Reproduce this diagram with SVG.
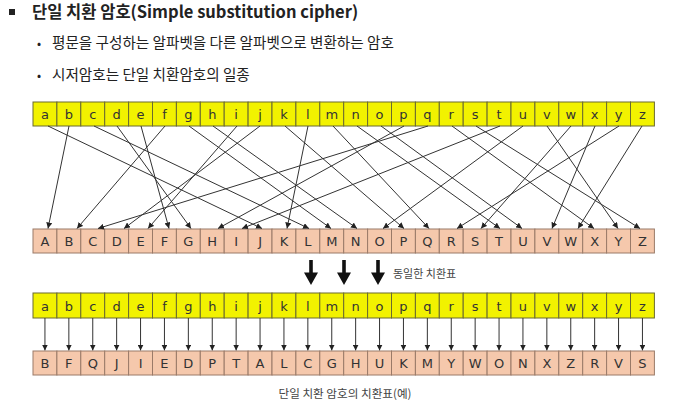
<svg xmlns="http://www.w3.org/2000/svg" width="682" height="408" viewBox="0 0 682 408">
<style>
.bg{fill:#ffffff}
.y rect{fill:#f2f200;stroke:#6a6a30;stroke-width:1}
.p rect{fill:#f5c8ac;stroke:#9a7a68;stroke-width:1}
.y text,.p text{font-family:"DejaVu Sans",sans-serif;font-size:13px;fill:#333;text-anchor:middle}
.c line{stroke:#333;stroke-width:1;marker-end:url(#ah)}
.t{font-family:"Noto Sans CJK KR","Noto Sans",sans-serif;fill:#222}
.s{font-family:"Noto Sans CJK KR","Noto Sans",sans-serif;fill:#444}
</style>
<defs>
<marker id="ah" markerUnits="userSpaceOnUse" markerWidth="6" markerHeight="6" refX="6" refY="3" orient="auto"><path d="M0,0 L6,3 L0,6 z" fill="#222"/></marker>
</defs>
<rect class="bg" x="0" y="0" width="682" height="408"/>
<g id="title">
<rect x="9" y="9" width="6" height="6" fill="#222"/>
<text class="t" x="32" y="18" font-size="16.5" font-weight="bold">단일 치환 암호(Simple substitution cipher)</text>
<text class="t" x="37" y="48" font-size="12" fill="#444">•</text>
<text class="t" x="52" y="48" font-size="14.6">평문을 구성하는 알파벳을 다른 알파벳으로 변환하는 암호</text>
<text class="t" x="37" y="80" font-size="12" fill="#444">•</text>
<text class="t" x="52" y="80" font-size="14.6">시저암호는 단일 치환암호의 일종</text>
</g>
<g id="plain-top" class="y">
<g id="t-a"><rect x="33" y="102" width="23.9" height="24"/><text x="44.95" y="119">a</text></g>
<g id="t-b"><rect x="56.9" y="102" width="23.9" height="24"/><text x="68.85" y="119">b</text></g>
<g id="t-c"><rect x="80.8" y="102" width="23.9" height="24"/><text x="92.75" y="119">c</text></g>
<g id="t-d"><rect x="104.7" y="102" width="23.9" height="24"/><text x="116.65" y="119">d</text></g>
<g id="t-e"><rect x="128.6" y="102" width="23.9" height="24"/><text x="140.55" y="119">e</text></g>
<g id="t-f"><rect x="152.5" y="102" width="23.9" height="24"/><text x="164.45" y="119">f</text></g>
<g id="t-g"><rect x="176.4" y="102" width="23.9" height="24"/><text x="188.35" y="119">g</text></g>
<g id="t-h"><rect x="200.3" y="102" width="23.9" height="24"/><text x="212.25" y="119">h</text></g>
<g id="t-i"><rect x="224.2" y="102" width="23.9" height="24"/><text x="236.15" y="119">i</text></g>
<g id="t-j"><rect x="248.1" y="102" width="23.9" height="24"/><text x="260.05" y="119">j</text></g>
<g id="t-k"><rect x="272" y="102" width="23.9" height="24"/><text x="283.95" y="119">k</text></g>
<g id="t-l"><rect x="295.9" y="102" width="23.9" height="24"/><text x="307.85" y="119">l</text></g>
<g id="t-m"><rect x="319.8" y="102" width="23.9" height="24"/><text x="331.75" y="119">m</text></g>
<g id="t-n"><rect x="343.7" y="102" width="23.9" height="24"/><text x="355.65" y="119">n</text></g>
<g id="t-o"><rect x="367.6" y="102" width="23.9" height="24"/><text x="379.55" y="119">o</text></g>
<g id="t-p"><rect x="391.5" y="102" width="23.9" height="24"/><text x="403.45" y="119">p</text></g>
<g id="t-q"><rect x="415.4" y="102" width="23.9" height="24"/><text x="427.35" y="119">q</text></g>
<g id="t-r"><rect x="439.3" y="102" width="23.9" height="24"/><text x="451.25" y="119">r</text></g>
<g id="t-s"><rect x="463.2" y="102" width="23.9" height="24"/><text x="475.15" y="119">s</text></g>
<g id="t-t"><rect x="487.1" y="102" width="23.9" height="24"/><text x="499.05" y="119">t</text></g>
<g id="t-u"><rect x="511" y="102" width="23.9" height="24"/><text x="522.95" y="119">u</text></g>
<g id="t-v"><rect x="534.9" y="102" width="23.9" height="24"/><text x="546.85" y="119">v</text></g>
<g id="t-w"><rect x="558.8" y="102" width="23.9" height="24"/><text x="570.75" y="119">w</text></g>
<g id="t-x"><rect x="582.7" y="102" width="23.9" height="24"/><text x="594.65" y="119">x</text></g>
<g id="t-y"><rect x="606.6" y="102" width="23.9" height="24"/><text x="618.55" y="119">y</text></g>
<g id="t-z"><rect x="630.5" y="102" width="23.9" height="24"/><text x="642.45" y="119">z</text></g>
</g>
<g id="cipher-top" class="p">
<g id="u-A"><rect x="33" y="229" width="23.9" height="24"/><text x="44.95" y="246">A</text></g>
<g id="u-B"><rect x="56.9" y="229" width="23.9" height="24"/><text x="68.85" y="246">B</text></g>
<g id="u-C"><rect x="80.8" y="229" width="23.9" height="24"/><text x="92.75" y="246">C</text></g>
<g id="u-D"><rect x="104.7" y="229" width="23.9" height="24"/><text x="116.65" y="246">D</text></g>
<g id="u-E"><rect x="128.6" y="229" width="23.9" height="24"/><text x="140.55" y="246">E</text></g>
<g id="u-F"><rect x="152.5" y="229" width="23.9" height="24"/><text x="164.45" y="246">F</text></g>
<g id="u-G"><rect x="176.4" y="229" width="23.9" height="24"/><text x="188.35" y="246">G</text></g>
<g id="u-H"><rect x="200.3" y="229" width="23.9" height="24"/><text x="212.25" y="246">H</text></g>
<g id="u-I"><rect x="224.2" y="229" width="23.9" height="24"/><text x="236.15" y="246">I</text></g>
<g id="u-J"><rect x="248.1" y="229" width="23.9" height="24"/><text x="260.05" y="246">J</text></g>
<g id="u-K"><rect x="272" y="229" width="23.9" height="24"/><text x="283.95" y="246">K</text></g>
<g id="u-L"><rect x="295.9" y="229" width="23.9" height="24"/><text x="307.85" y="246">L</text></g>
<g id="u-M"><rect x="319.8" y="229" width="23.9" height="24"/><text x="331.75" y="246">M</text></g>
<g id="u-N"><rect x="343.7" y="229" width="23.9" height="24"/><text x="355.65" y="246">N</text></g>
<g id="u-O"><rect x="367.6" y="229" width="23.9" height="24"/><text x="379.55" y="246">O</text></g>
<g id="u-P"><rect x="391.5" y="229" width="23.9" height="24"/><text x="403.45" y="246">P</text></g>
<g id="u-Q"><rect x="415.4" y="229" width="23.9" height="24"/><text x="427.35" y="246">Q</text></g>
<g id="u-R"><rect x="439.3" y="229" width="23.9" height="24"/><text x="451.25" y="246">R</text></g>
<g id="u-S"><rect x="463.2" y="229" width="23.9" height="24"/><text x="475.15" y="246">S</text></g>
<g id="u-T"><rect x="487.1" y="229" width="23.9" height="24"/><text x="499.05" y="246">T</text></g>
<g id="u-U"><rect x="511" y="229" width="23.9" height="24"/><text x="522.95" y="246">U</text></g>
<g id="u-V"><rect x="534.9" y="229" width="23.9" height="24"/><text x="546.85" y="246">V</text></g>
<g id="u-W"><rect x="558.8" y="229" width="23.9" height="24"/><text x="570.75" y="246">W</text></g>
<g id="u-X"><rect x="582.7" y="229" width="23.9" height="24"/><text x="594.65" y="246">X</text></g>
<g id="u-Y"><rect x="606.6" y="229" width="23.9" height="24"/><text x="618.55" y="246">Y</text></g>
<g id="u-Z"><rect x="630.5" y="229" width="23.9" height="24"/><text x="642.45" y="246">Z</text></g>
</g>
<g id="connectors-top" class="c">
<line x1="48" y1="126" x2="262" y2="228.5"/>
<line x1="69" y1="126" x2="48" y2="228.5"/>
<line x1="94" y1="126" x2="309" y2="228.5"/>
<line x1="117" y1="126" x2="191" y2="228.5"/>
<line x1="141" y1="126" x2="169" y2="228.5"/>
<line x1="165" y1="126" x2="77" y2="228.5"/>
<line x1="189" y1="126" x2="331" y2="228.5"/>
<line x1="213" y1="126" x2="357" y2="228.5"/>
<line x1="237" y1="126" x2="148" y2="228.5"/>
<line x1="260" y1="126" x2="124" y2="228.5"/>
<line x1="285" y1="126" x2="404" y2="228.5"/>
<line x1="308" y1="126" x2="287" y2="228.5"/>
<line x1="333" y1="126" x2="429" y2="228.5"/>
<line x1="357" y1="126" x2="500" y2="228.5"/>
<line x1="381" y1="126" x2="522" y2="228.5"/>
<line x1="404" y1="126" x2="218" y2="228.5"/>
<line x1="428" y1="126" x2="98" y2="228.5"/>
<line x1="452" y1="126" x2="594" y2="228.5"/>
<line x1="476" y1="126" x2="640" y2="228.5"/>
<line x1="500" y1="126" x2="242" y2="228.5"/>
<line x1="523" y1="126" x2="383" y2="228.5"/>
<line x1="547" y1="126" x2="618" y2="228.5"/>
<line x1="571" y1="126" x2="481" y2="228.5"/>
<line x1="595" y1="126" x2="552" y2="228.5"/>
<line x1="619" y1="126" x2="457" y2="228.5"/>
<line x1="642" y1="126" x2="578" y2="228.5"/>
</g>
<g id="same-table">
<g fill="#111">
<path d="M309.2,260 h3.6 v12.5 h5.2 l-7,12.5 l-7,-12.5 h5.2 z"/>
<path d="M342.2,260 h3.6 v12.5 h5.2 l-7,12.5 l-7,-12.5 h5.2 z"/>
<path d="M376.2,260 h3.6 v12.5 h5.2 l-7,12.5 l-7,-12.5 h5.2 z"/>
</g>
<text class="s" x="393" y="278" font-size="11">동일한 치환표</text>
</g>
<g id="plain-bottom" class="y">
<g id="b-a"><rect x="33" y="293" width="23.9" height="25"/><text x="44.95" y="310.5">a</text></g>
<g id="b-b"><rect x="56.9" y="293" width="23.9" height="25"/><text x="68.85" y="310.5">b</text></g>
<g id="b-c"><rect x="80.8" y="293" width="23.9" height="25"/><text x="92.75" y="310.5">c</text></g>
<g id="b-d"><rect x="104.7" y="293" width="23.9" height="25"/><text x="116.65" y="310.5">d</text></g>
<g id="b-e"><rect x="128.6" y="293" width="23.9" height="25"/><text x="140.55" y="310.5">e</text></g>
<g id="b-f"><rect x="152.5" y="293" width="23.9" height="25"/><text x="164.45" y="310.5">f</text></g>
<g id="b-g"><rect x="176.4" y="293" width="23.9" height="25"/><text x="188.35" y="310.5">g</text></g>
<g id="b-h"><rect x="200.3" y="293" width="23.9" height="25"/><text x="212.25" y="310.5">h</text></g>
<g id="b-i"><rect x="224.2" y="293" width="23.9" height="25"/><text x="236.15" y="310.5">i</text></g>
<g id="b-j"><rect x="248.1" y="293" width="23.9" height="25"/><text x="260.05" y="310.5">j</text></g>
<g id="b-k"><rect x="272" y="293" width="23.9" height="25"/><text x="283.95" y="310.5">k</text></g>
<g id="b-l"><rect x="295.9" y="293" width="23.9" height="25"/><text x="307.85" y="310.5">l</text></g>
<g id="b-m"><rect x="319.8" y="293" width="23.9" height="25"/><text x="331.75" y="310.5">m</text></g>
<g id="b-n"><rect x="343.7" y="293" width="23.9" height="25"/><text x="355.65" y="310.5">n</text></g>
<g id="b-o"><rect x="367.6" y="293" width="23.9" height="25"/><text x="379.55" y="310.5">o</text></g>
<g id="b-p"><rect x="391.5" y="293" width="23.9" height="25"/><text x="403.45" y="310.5">p</text></g>
<g id="b-q"><rect x="415.4" y="293" width="23.9" height="25"/><text x="427.35" y="310.5">q</text></g>
<g id="b-r"><rect x="439.3" y="293" width="23.9" height="25"/><text x="451.25" y="310.5">r</text></g>
<g id="b-s"><rect x="463.2" y="293" width="23.9" height="25"/><text x="475.15" y="310.5">s</text></g>
<g id="b-t"><rect x="487.1" y="293" width="23.9" height="25"/><text x="499.05" y="310.5">t</text></g>
<g id="b-u"><rect x="511" y="293" width="23.9" height="25"/><text x="522.95" y="310.5">u</text></g>
<g id="b-v"><rect x="534.9" y="293" width="23.9" height="25"/><text x="546.85" y="310.5">v</text></g>
<g id="b-w"><rect x="558.8" y="293" width="23.9" height="25"/><text x="570.75" y="310.5">w</text></g>
<g id="b-x"><rect x="582.7" y="293" width="23.9" height="25"/><text x="594.65" y="310.5">x</text></g>
<g id="b-y"><rect x="606.6" y="293" width="23.9" height="25"/><text x="618.55" y="310.5">y</text></g>
<g id="b-z"><rect x="630.5" y="293" width="23.9" height="25"/><text x="642.45" y="310.5">z</text></g>
</g>
<g id="connectors-bottom" class="c">
<line x1="44.95" y1="318" x2="44.95" y2="350.5"/>
<line x1="68.85" y1="318" x2="68.85" y2="350.5"/>
<line x1="92.75" y1="318" x2="92.75" y2="350.5"/>
<line x1="116.65" y1="318" x2="116.65" y2="350.5"/>
<line x1="140.55" y1="318" x2="140.55" y2="350.5"/>
<line x1="164.45" y1="318" x2="164.45" y2="350.5"/>
<line x1="188.35" y1="318" x2="188.35" y2="350.5"/>
<line x1="212.25" y1="318" x2="212.25" y2="350.5"/>
<line x1="236.15" y1="318" x2="236.15" y2="350.5"/>
<line x1="260.05" y1="318" x2="260.05" y2="350.5"/>
<line x1="283.95" y1="318" x2="283.95" y2="350.5"/>
<line x1="307.85" y1="318" x2="307.85" y2="350.5"/>
<line x1="331.75" y1="318" x2="331.75" y2="350.5"/>
<line x1="355.65" y1="318" x2="355.65" y2="350.5"/>
<line x1="379.55" y1="318" x2="379.55" y2="350.5"/>
<line x1="403.45" y1="318" x2="403.45" y2="350.5"/>
<line x1="427.35" y1="318" x2="427.35" y2="350.5"/>
<line x1="451.25" y1="318" x2="451.25" y2="350.5"/>
<line x1="475.15" y1="318" x2="475.15" y2="350.5"/>
<line x1="499.05" y1="318" x2="499.05" y2="350.5"/>
<line x1="522.95" y1="318" x2="522.95" y2="350.5"/>
<line x1="546.85" y1="318" x2="546.85" y2="350.5"/>
<line x1="570.75" y1="318" x2="570.75" y2="350.5"/>
<line x1="594.65" y1="318" x2="594.65" y2="350.5"/>
<line x1="618.55" y1="318" x2="618.55" y2="350.5"/>
<line x1="642.45" y1="318" x2="642.45" y2="350.5"/>
</g>
<g id="cipher-bottom" class="p">
<g id="c-B"><rect x="33" y="351" width="23.9" height="24"/><text x="44.95" y="368">B</text></g>
<g id="c-F"><rect x="56.9" y="351" width="23.9" height="24"/><text x="68.85" y="368">F</text></g>
<g id="c-Q"><rect x="80.8" y="351" width="23.9" height="24"/><text x="92.75" y="368">Q</text></g>
<g id="c-J"><rect x="104.7" y="351" width="23.9" height="24"/><text x="116.65" y="368">J</text></g>
<g id="c-I"><rect x="128.6" y="351" width="23.9" height="24"/><text x="140.55" y="368">I</text></g>
<g id="c-E"><rect x="152.5" y="351" width="23.9" height="24"/><text x="164.45" y="368">E</text></g>
<g id="c-D"><rect x="176.4" y="351" width="23.9" height="24"/><text x="188.35" y="368">D</text></g>
<g id="c-P"><rect x="200.3" y="351" width="23.9" height="24"/><text x="212.25" y="368">P</text></g>
<g id="c-T"><rect x="224.2" y="351" width="23.9" height="24"/><text x="236.15" y="368">T</text></g>
<g id="c-A"><rect x="248.1" y="351" width="23.9" height="24"/><text x="260.05" y="368">A</text></g>
<g id="c-L"><rect x="272" y="351" width="23.9" height="24"/><text x="283.95" y="368">L</text></g>
<g id="c-C"><rect x="295.9" y="351" width="23.9" height="24"/><text x="307.85" y="368">C</text></g>
<g id="c-G"><rect x="319.8" y="351" width="23.9" height="24"/><text x="331.75" y="368">G</text></g>
<g id="c-H"><rect x="343.7" y="351" width="23.9" height="24"/><text x="355.65" y="368">H</text></g>
<g id="c-U"><rect x="367.6" y="351" width="23.9" height="24"/><text x="379.55" y="368">U</text></g>
<g id="c-K"><rect x="391.5" y="351" width="23.9" height="24"/><text x="403.45" y="368">K</text></g>
<g id="c-M"><rect x="415.4" y="351" width="23.9" height="24"/><text x="427.35" y="368">M</text></g>
<g id="c-Y"><rect x="439.3" y="351" width="23.9" height="24"/><text x="451.25" y="368">Y</text></g>
<g id="c-W"><rect x="463.2" y="351" width="23.9" height="24"/><text x="475.15" y="368">W</text></g>
<g id="c-O"><rect x="487.1" y="351" width="23.9" height="24"/><text x="499.05" y="368">O</text></g>
<g id="c-N"><rect x="511" y="351" width="23.9" height="24"/><text x="522.95" y="368">N</text></g>
<g id="c-X"><rect x="534.9" y="351" width="23.9" height="24"/><text x="546.85" y="368">X</text></g>
<g id="c-Z"><rect x="558.8" y="351" width="23.9" height="24"/><text x="570.75" y="368">Z</text></g>
<g id="c-R"><rect x="582.7" y="351" width="23.9" height="24"/><text x="594.65" y="368">R</text></g>
<g id="c-V"><rect x="606.6" y="351" width="23.9" height="24"/><text x="618.55" y="368">V</text></g>
<g id="c-S"><rect x="630.5" y="351" width="23.9" height="24"/><text x="642.45" y="368">S</text></g>
</g>
<g id="caption">
<text class="s" x="345" y="398" font-size="11.6" text-anchor="middle">단일 치환 암호의 치환표(예)</text>
</g>
</svg>
